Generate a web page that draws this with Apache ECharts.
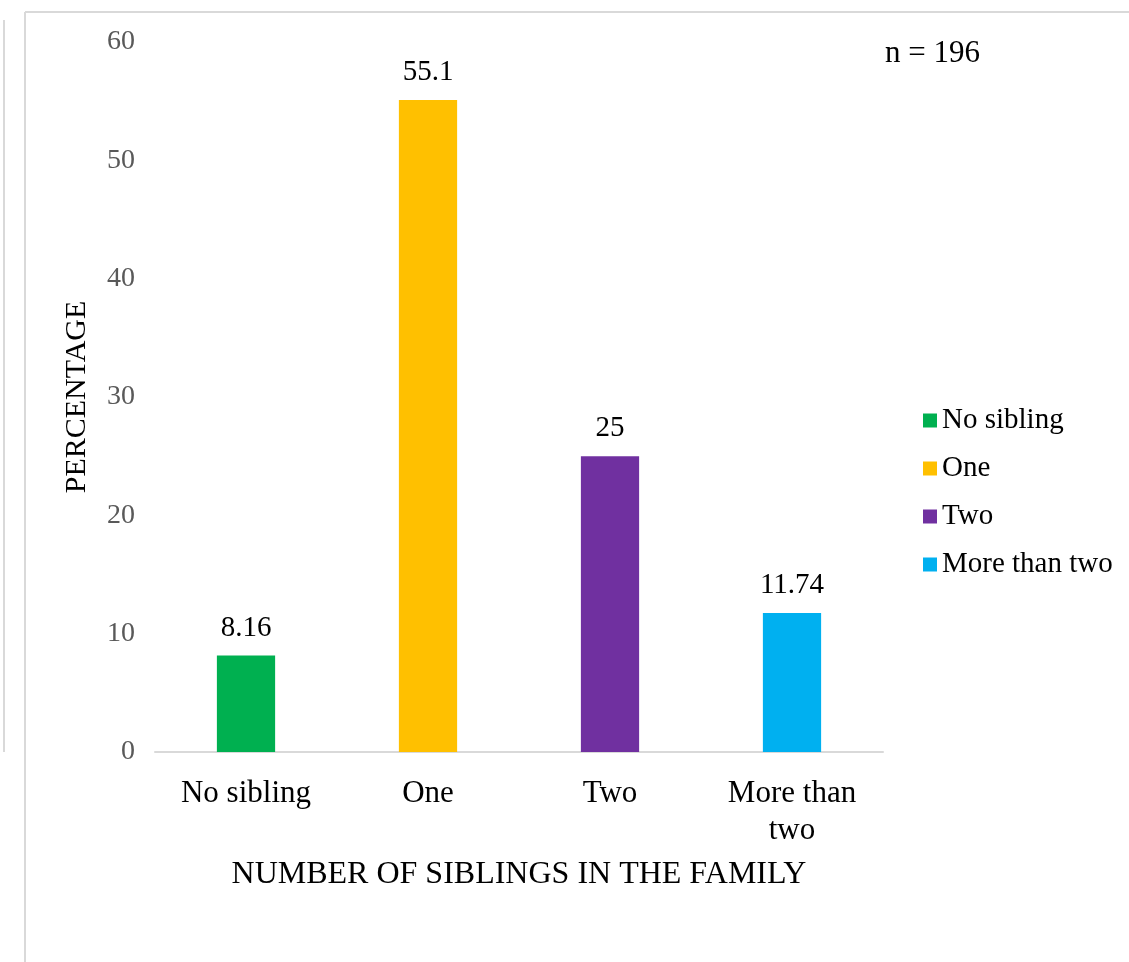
<!DOCTYPE html>
<html>
<head>
<meta charset="utf-8">
<script src="https://cdn.jsdelivr.net/npm/echarts@6/dist/echarts.min.js"></script>
<style>
html,body{margin:0;padding:0;background:#fff;}
#chart{width:1129px;height:962px;}
</style>
</head>
<body>
<div id="chart"></div>
<script>
var categories = ['No sibling', 'One', 'Two', 'More than two'];
var values = [8.16, 55.1, 25, 11.74];
var colors = ['#00B050', '#FFC000', '#7030A0', '#00B0F0'];
var yTicks = [0, 10, 20, 30, 40, 50, 60];

var font = '"Liberation Serif", "Times New Roman", serif';
var chart = echarts.init(document.getElementById('chart'));

var series = categories.map(function (name, i) {
  var d = categories.map(function (c, j) { return j === i ? values[i] : '-'; });
  return {
    name: name,
    type: 'bar',
    stack: 'all',
    barWidth: '32%',
    data: d,
    itemStyle: { color: colors[i] },
    label: {
      show: true,
      position: 'top',
      distance: 13,
      color: '#000',
      fontFamily: font,
      fontSize: 29
    }
  };
});

chart.setOption({
  animation: false,
  backgroundColor: '#fff',
  textStyle: { fontFamily: font },
  grid: { left: 155, right: 246, top: 42, bottom: 210, containLabel: false },
  legend: {
    orient: 'vertical',
    left: 918,
    top: 401,
    itemWidth: 14,
    itemHeight: 14,
    itemGap: 19,
    icon: 'rect',
    data: categories,
    textStyle: { fontFamily: font, fontSize: 29, color: '#000' }
  },
  xAxis: {
    type: 'category',
    data: categories,
    name: 'NUMBER OF SIBLINGS IN THE FAMILY',
    nameLocation: 'middle',
    nameGap: 107,
    nameTextStyle: { fontFamily: font, fontSize: 32, color: '#000' },
    axisLine: { lineStyle: { color: '#D9D9D9', width: 2 } },
    axisTick: { show: false },
    axisLabel: {
      interval: 0,
      margin: 23,
      fontFamily: font,
      fontSize: 31,
      lineHeight: 37,
      color: '#000',
      formatter: function (v) { return v === 'More than two' ? 'More than\ntwo' : v; }
    }
  },
  yAxis: {
    type: 'value',
    min: yTicks[0],
    max: yTicks[yTicks.length - 1],
    interval: 10,
    name: 'PERCENTAGE',
    nameLocation: 'middle',
    nameGap: 63,
    nameTextStyle: { fontFamily: font, fontSize: 30, color: '#000' },
    axisLine: { show: false },
    axisTick: { show: false },
    splitLine: { show: false },
    axisLabel: { margin: 20, fontFamily: font, fontSize: 28, color: '#595959' }
  },
  graphic: [
    { type: 'line', shape: { x1: 25, y1: 12, x2: 1129, y2: 12 }, style: { stroke: '#D9D9D9', lineWidth: 2 } },
    { type: 'line', shape: { x1: 25, y1: 12, x2: 25, y2: 962 }, style: { stroke: '#D9D9D9', lineWidth: 2 } },
    { type: 'line', shape: { x1: 4, y1: 20, x2: 4, y2: 752 }, style: { stroke: '#D9D9D9', lineWidth: 2 } },
    { type: 'text', left: 885, top: 38, style: { text: 'n = 196', font: '31px ' + font, fill: '#000' } }
  ],
  series: series
});
</script>
</body>
</html>
